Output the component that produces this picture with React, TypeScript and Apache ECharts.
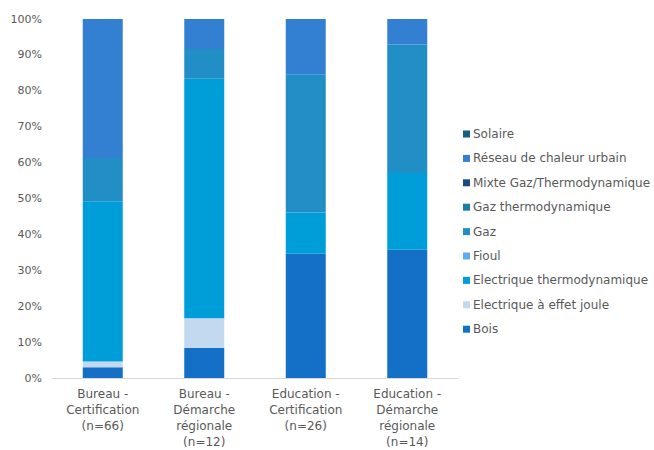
import React, { useEffect, useRef } from "react";
import * as echarts from "echarts";

const categories = [
  "Bureau -\nCertification\n(n=66)",
  "Bureau -\nDémarche\nrégionale\n(n=12)",
  "Education -\nCertification\n(n=26)",
  "Education -\nDémarche\nrégionale\n(n=14)",
];

const seriesNames = [
  "Bois",
  "Electrique à effet joule",
  "Electrique thermodynamique",
  "Fioul",
  "Gaz",
  "Gaz thermodynamique",
  "Mixte Gaz/Thermodynamique",
  "Réseau de chaleur urbain",
  "Solaire",
];

const seriesColors = [
  "#1370c6",
  "#c3d9ef",
  "#009ed9",
  "#5aabf0",
  "#218fc6",
  "#1a7fa3",
  "#1b4a82",
  "#3380d2",
  "#15607a",
];

const bois = [3.0, 8.33, 34.6, 35.7];
const joule = [1.6, 8.33, 0, 0];
const thermo = [44.65, 66.67, 11.5, 21.4];
const fioul = [0, 0, 0, 0];
const gaz = [12.0, 8.33, 38.5, 35.8];
const gazThermo = [0, 0, 0, 0];
const mixte = [0, 0, 0, 0];
const reseau = [38.75, 8.34, 15.4, 7.1];
const solaire = [0, 0, 0, 0];

const seriesValues = [bois, joule, thermo, fioul, gaz, gazThermo, mixte, reseau, solaire];

const yTicks = [0, 10, 20, 30, 40, 50, 60, 70, 80, 90, 100];

const FONT = "DejaVu Sans";

export default function App() {
  const ref = useRef<HTMLDivElement>(null);
  useEffect(() => {
    if (!ref.current) return;
    const chart = echarts.init(ref.current, null, { renderer: "svg" });
    chart.setOption({
      animation: false,
      backgroundColor: "#ffffff",
      grid: { left: 52, right: 196, top: 19, bottom: 69 },
      legend: {
        orient: "vertical",
        left: 458,
        top: 122,
        data: [...seriesNames].reverse(),
        itemWidth: 7,
        itemHeight: 7,
        itemGap: 10.4,
        icon: "rect",
        textStyle: {
          fontFamily: FONT,
          fontSize: 12,
          color: "#595959",
          lineHeight: 14,
          padding: [0, 0, 0, -2],
        },
        selectedMode: false,
      },
      xAxis: {
        type: "category",
        data: categories,
        axisLine: { lineStyle: { color: "#d9d9d9", width: 1 } },
        axisTick: { show: false },
        axisLabel: {
          interval: 0,
          fontFamily: FONT,
          fontSize: 12,
          color: "#595959",
          lineHeight: 16,
          margin: 8,
        },
      },
      yAxis: {
        type: "value",
        min: 0,
        max: 100,
        interval: 10,
        axisLine: { show: false },
        axisTick: { show: false },
        splitLine: { show: false },
        axisLabel: {
          formatter: (v: number) => (yTicks.includes(v) ? v + "%" : ""),
          fontFamily: FONT,
          fontSize: 11,
          color: "#595959",
          margin: 10,
        },
      },
      series: seriesNames.map((name, i) => ({
        name,
        type: "bar",
        stack: "total",
        barWidth: 40,
        data: seriesValues[i],
        itemStyle: { color: seriesColors[i] },
      })),
    });
    return () => chart.dispose();
  }, []);
  return (
    <div
      ref={ref}
      style={{ position: "fixed", left: 0, top: 0, width: 654, height: 450 }}
    />
  );
}
